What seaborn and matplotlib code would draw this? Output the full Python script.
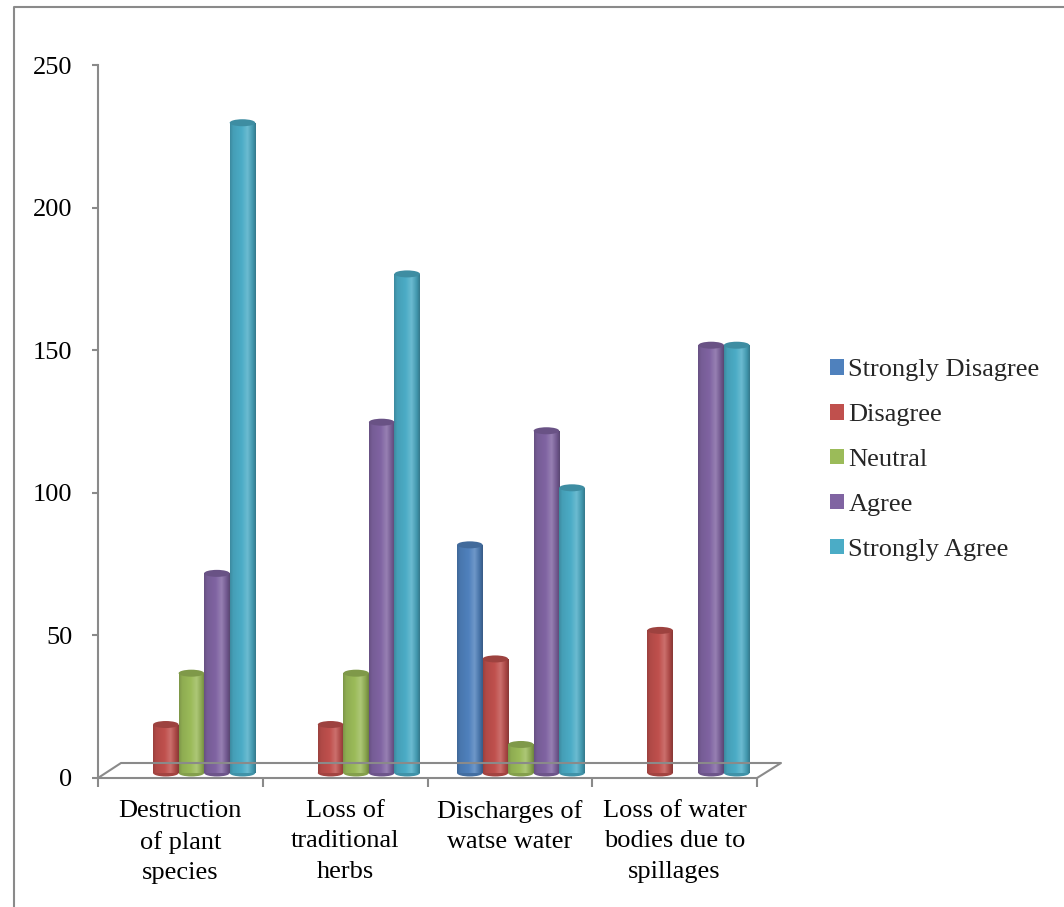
import numpy as np
import pandas as pd
import matplotlib
matplotlib.use("Agg")
import matplotlib.pyplot as plt
import seaborn as sns
from matplotlib.colors import LinearSegmentedColormap, to_rgb
from matplotlib.patches import Ellipse, Patch
from matplotlib.lines import Line2D
from matplotlib.transforms import ScaledTranslation

# Survey responses per environmental impact
categories = [
    "Destruction\nof plant\nspecies",
    "Loss of\ntraditional\nherbs",
    "Discharges of\nwatse water",
    "Loss of water\nbodies due to\nspillages",
]
responses = ["Strongly Disagree", "Disagree", "Neutral", "Agree", "Strongly Agree"]
strongly_disagree = [0, 0, 80, 0]
disagree = [17, 17, 40, 50]
neutral = [35, 35, 10, 0]
agree = [70, 123, 120, 150]
strongly_agree = [228, 175, 100, 150]
colors = ["#4F81BD", "#C0504D", "#9BBB59", "#8064A2", "#4BACC6"]
y_ticks = [0, 50, 100, 150, 200, 250]

series = [strongly_disagree, disagree, neutral, agree, strongly_agree]
rows = []
for resp, vals in zip(responses, series):
    for cat, v in zip(categories, vals):
        rows.append({"category": cat, "response": resp, "value": v})
df = pd.DataFrame(rows)

sns.set_style("white")
plt.rcParams["font.family"] = ["Liberation Serif", "DejaVu Serif"]

W, H = 1064, 907
FS = 19
fig = plt.figure(figsize=(W / 100, H / 100), dpi=100)
ax = fig.add_axes([98 / W, (H - 778) / H, (757 - 98) / W, (778 - 65) / H])

sns.barplot(
    data=df, x="category", y="value", hue="response",
    order=categories, hue_order=responses, palette=colors,
    width=0.775, saturation=1, errorbar=None, legend=False, ax=ax,
)

grey = "#8a8a8a"
ymax = 250
px_per_unit = (778 - 65) / ymax
cap_h = 7 / px_per_unit

# cylinders sit slightly behind the axis plane
offset = ScaledTranslation(11 / 100, 5 / 100, fig.dpi_scale_trans)
bar_trans = ax.transData + offset


def shade_cmap(c):
    c = np.array(to_rgb(c))
    light = c + (1 - c) * 0.18
    stops = [
        (0.0, c * 0.80),
        (0.12, c * 0.92),
        (0.45, c * 1.0),
        (0.68, np.clip(light, 0, 1)),
        (0.88, c * 0.88),
        (1.0, c * 0.70),
    ]
    return LinearSegmentedColormap.from_list("cyl", [(p, tuple(np.clip(v, 0, 1))) for p, v in stops])


grad = np.linspace(0, 1, 128).reshape(1, -1)
for bar in list(ax.patches):
    x0, w, h = bar.get_x(), bar.get_width(), bar.get_height()
    if h <= 0:
        bar.set_visible(False)
        continue
    base = np.array(bar.get_facecolor()[:3])
    bar.set_transform(bar_trans)
    bar.set_edgecolor("none")
    z = bar.get_zorder()
    im = ax.imshow(grad, cmap=shade_cmap(base), extent=[x0, x0 + w, 0, h],
                   aspect="auto", transform=bar_trans, zorder=z + 0.1,
                   interpolation="bilinear")
    im.set_clip_path(bar)
    ax.add_patch(Ellipse((x0 + w / 2, 0), w, cap_h, facecolor=base * 0.85,
                         edgecolor="none", transform=bar_trans, zorder=z - 0.1))
    ax.add_patch(Ellipse((x0 + w / 2, h), w, cap_h, facecolor=base * 0.82,
                         edgecolor="none", transform=bar_trans, zorder=z + 0.2))

ax.set_xlim(-0.5, len(categories) - 0.5)
ax.set_ylim(0, ymax)
ax.set_xlabel("")
ax.set_ylabel("")
ax.set_yticks(y_ticks)
ax.set_yticklabels([str(t) for t in y_ticks])
ax.set_xticks(range(len(categories)))
ax.set_xticklabels(categories, linespacing=1.5)
ax.set_xticks(np.arange(-0.5, len(categories), 1.0), minor=True)

ax.tick_params(axis="y", which="major", left=True, length=4.5, width=1.5,
               color=grey, pad=14, labelsize=FS, labelcolor="black")
ax.tick_params(axis="x", which="major", bottom=True, length=0, pad=15.5,
               labelsize=FS, labelcolor="black")
ax.tick_params(axis="x", which="minor", bottom=True, length=6.5, width=1.5,
               color=grey)

for side in ["top", "right"]:
    ax.spines[side].set_visible(False)
for side in ["left", "bottom"]:
    ax.spines[side].set_color(grey)
    ax.spines[side].set_linewidth(1.5)

# floor of the 3D plot area
fx = [98, 121, 781, 757]
fy = [778, 763, 763, 778]
fig.add_artist(Line2D([x / W for x in fx], [1 - y / H for y in fy],
                      transform=fig.transFigure, color=grey, lw=1.5))

# outer chart frame
fig.add_artist(Line2D([14 / W, 14 / W, 1.0], [0.0, 1 - 7 / H, 1 - 7 / H],
                      transform=fig.transFigure, color=grey, lw=1.5))

handles = [Patch(facecolor=c, edgecolor="none") for c in colors]
fig.legend(handles, responses, loc="center left",
           bbox_to_anchor=(830 / W, 1 - 460 / H), frameon=False,
           fontsize=FS, handlelength=0.53, handleheight=0.53,
           handletextpad=0.17, labelspacing=0.86, borderpad=0,
           borderaxespad=0)

fig.savefig("out.png", dpi=100, facecolor="white")
